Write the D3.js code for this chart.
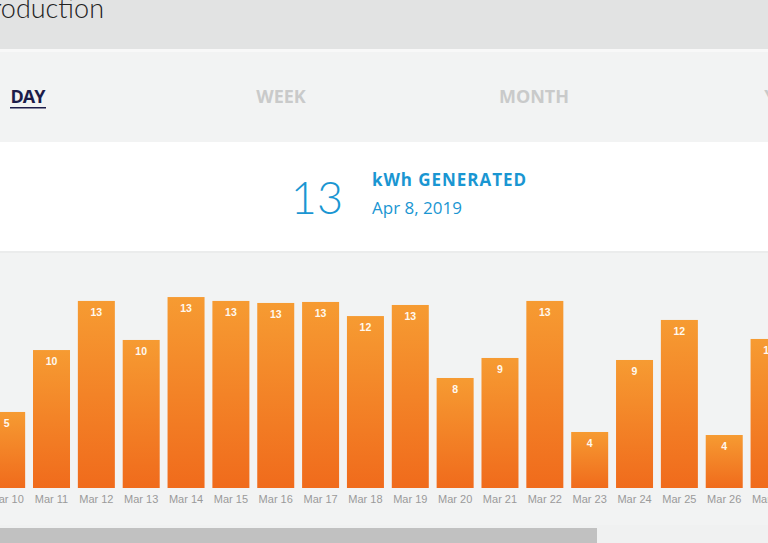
<!DOCTYPE html>
<html><head><meta charset="utf-8">
<script src="https://cdn.jsdelivr.net/npm/d3@7"></script>
<style>html,body{margin:0;padding:0;background:#f2f3f3;overflow:hidden}</style>
</head><body>
<svg id="c" width="768" height="543"></svg>
<script>
const dates = ["Mar 10","Mar 11","Mar 12","Mar 13","Mar 14","Mar 15","Mar 16","Mar 17","Mar 18","Mar 19","Mar 20","Mar 21","Mar 22","Mar 23","Mar 24","Mar 25","Mar 26","Mar 27"];
const values = [5.28,9.58,12.99,10.28,13.26,12.99,12.85,12.92,11.94,12.71,7.64,9.03,12.99,3.89,8.89,11.67,3.68,10.35];
const tabs = ["DAY","WEEK","MONTH","YEAR"];
const title = "Production";
const selectedTotal = 13;
const selectedDate = "Apr 8, 2019";
const unitLabel = "kWh GENERATED";

const svg = d3.select("#c");
// backgrounds
svg.append("rect").attr("x",0).attr("y",0).attr("width",768).attr("height",49).attr("fill","#e2e3e3");
svg.append("rect").attr("x",0).attr("y",49).attr("width",768).attr("height",3).attr("fill","#f8f8f8");
svg.append("rect").attr("x",0).attr("y",52).attr("width",768).attr("height",90).attr("fill","#f2f3f3");
svg.append("rect").attr("x",0).attr("y",142).attr("width",768).attr("height",109).attr("fill","#ffffff");
svg.append("rect").attr("x",0).attr("y",251).attr("width",768).attr("height",2).attr("fill","#ebecec");
svg.append("rect").attr("x",0).attr("y",253).attr("width",768).attr("height",272).attr("fill","#f2f3f3");
svg.append("rect").attr("x",0).attr("y",525).attr("width",768).attr("height",18).attr("fill","#f0f1f1");
svg.append("rect").attr("x",0).attr("y",528).attr("width",597).attr("height",15).attr("fill","#c1c1c1");

// title
svg.append("text").attr("x",104).attr("y",18).attr("text-anchor","end")
  .attr("font-family","Lato, 'Open Sans', sans-serif").attr("font-weight",300)
  .attr("font-size",27).attr("fill","#222").text(title);

// tabs
const tabX = d3.scalePoint().domain(tabs).range([28,787]);
tabs.forEach((t,i)=>{
  svg.append("text").attr("x",tabX(t)).attr("y",103).attr("text-anchor","middle")
    .attr("font-family","'Open Sans', sans-serif").attr("font-weight",700)
    .attr("font-size",18).attr("fill", i===0 ? "#1c1c4a" : "#c9caca")
    .attr("textLength", i===0?35:null)
    .text(t);
});
svg.append("rect").attr("x",10).attr("y",107).attr("width",36).attr("height",1.5).attr("fill","#1c1c4a");

// summary
svg.append("text").attr("x",343).attr("y",214).attr("text-anchor","end")
  .attr("font-family","Lato, sans-serif").attr("font-weight",300)
  .attr("font-size",45).attr("fill","#1a96d2").text(selectedTotal);
svg.append("text").attr("x",372).attr("y",186)
  .attr("font-family","'Open Sans', sans-serif").attr("font-weight",700)
  .attr("font-size",17).attr("fill","#1a96d2").attr("textLength",154).text(unitLabel);
svg.append("text").attr("x",372).attr("y",214)
  .attr("font-family","'Open Sans', sans-serif").attr("font-weight",400)
  .attr("font-size",17).attr("fill","#1a96d2").text(selectedDate);

// gradient
const defs = svg.append("defs");
const g = defs.append("linearGradient").attr("id","barg").attr("x1",0).attr("y1",0).attr("x2",0).attr("y2",1);
g.append("stop").attr("offset","0%").attr("stop-color","#f69b32");
g.append("stop").attr("offset","100%").attr("stop-color","#f06b1c");

const x = d3.scaleBand().domain(dates).range([-15.77, 791.5]).paddingInner(0.175).paddingOuter(0.0875);
const y = d3.scaleLinear().domain([0,15]).range([488, 272]);

const bars = svg.append("g");
bars.selectAll("rect").data(dates).join("rect")
  .attr("x", d=>x(d)).attr("width", x.bandwidth())
  .attr("y", (d,i)=>y(values[i])).attr("height",(d,i)=>y(0)-y(values[i]))
  .attr("fill","url(#barg)");
bars.selectAll("text.v").data(dates).join("text").attr("class","v")
  .attr("x", d=>x(d)+x.bandwidth()/2).attr("y",(d,i)=>y(values[i])+15)
  .attr("text-anchor","middle").attr("font-family","Arial, 'Liberation Sans', sans-serif")
  .attr("font-weight",700).attr("font-size",10.5).attr("fill","#fff8ee")
  .text((d,i)=>Math.round(values[i]));

const axis = d3.axisBottom(x).tickSize(0).tickPadding(7);
const ax = svg.append("g").attr("transform","translate(0,488)").call(axis);
ax.select(".domain").remove();
ax.selectAll("text").attr("font-family","Arial, 'Liberation Sans', sans-serif")
  .attr("font-size",11).attr("fill","#9a9a9a");
</script>
</body></html>
